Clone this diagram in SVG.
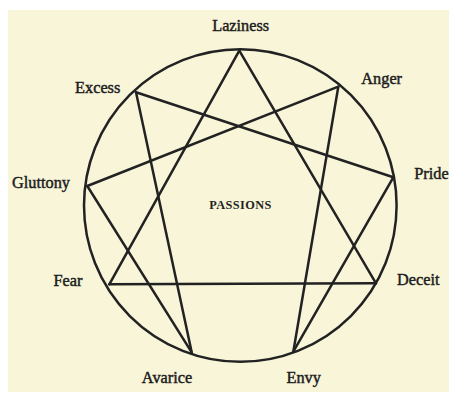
<svg xmlns="http://www.w3.org/2000/svg" width="449" height="396" viewBox="0 0 449 396">
<defs>
<style>
.lbl{font-family:"Liberation Serif","Times New Roman",serif;font-size:16.3px;fill:#1c1c1c;stroke:#1c1c1c;stroke-width:0.45;text-anchor:middle}
.ttl{font-family:"Liberation Serif","Times New Roman",serif;font-size:12.3px;font-weight:bold;fill:#1f1f1f;text-anchor:middle;letter-spacing:0.4px}
.ln{stroke:#222;stroke-width:2.5;stroke-linecap:round;fill:none}
</style>
</defs>
<rect x="0" y="0" width="449" height="396" fill="#ffffff"/>
<rect x="8" y="10" width="441" height="382" fill="#f8f5d9"/>
<g id="circle">
<circle cx="240.3" cy="205.5" r="156.3" class="ln"/>
</g>
<g id="connectors">
<line class="ln" x1="239.3" y1="50.7" x2="109.3" y2="284.3"/>
<line class="ln" x1="109.3" y1="284.3" x2="376" y2="283.3"/>
<line class="ln" x1="376" y1="283.3" x2="239.3" y2="50.7"/>
<line class="ln" x1="338.3" y1="86.7" x2="293.3" y2="351.7"/>
<line class="ln" x1="293.3" y1="351.7" x2="393.3" y2="177.3"/>
<line class="ln" x1="393.3" y1="177.3" x2="136" y2="92.3"/>
<line class="ln" x1="136" y1="92.3" x2="191.7" y2="352.3"/>
<line class="ln" x1="191.7" y1="352.3" x2="87.3" y2="186"/>
<line class="ln" x1="87.3" y1="186" x2="338.3" y2="86.7"/>
</g>
<g id="laziness"><text class="lbl" x="240.7" y="31">Laziness</text></g>
<g id="anger"><text class="lbl" x="381.7" y="83.5">Anger</text></g>
<g id="pride"><text class="lbl" x="431.5" y="178.5">Pride</text></g>
<g id="deceit"><text class="lbl" x="418.3" y="285">Deceit</text></g>
<g id="envy"><text class="lbl" x="303.7" y="382.5">Envy</text></g>
<g id="avarice"><text class="lbl" x="167" y="383">Avarice</text></g>
<g id="fear"><text class="lbl" x="68" y="286">Fear</text></g>
<g id="gluttony"><text class="lbl" x="41" y="188">Gluttony</text></g>
<g id="excess"><text class="lbl" x="97.7" y="92.5">Excess</text></g>
<g id="passions"><text class="ttl" x="240.5" y="209">PASSIONS</text></g>
</svg>
